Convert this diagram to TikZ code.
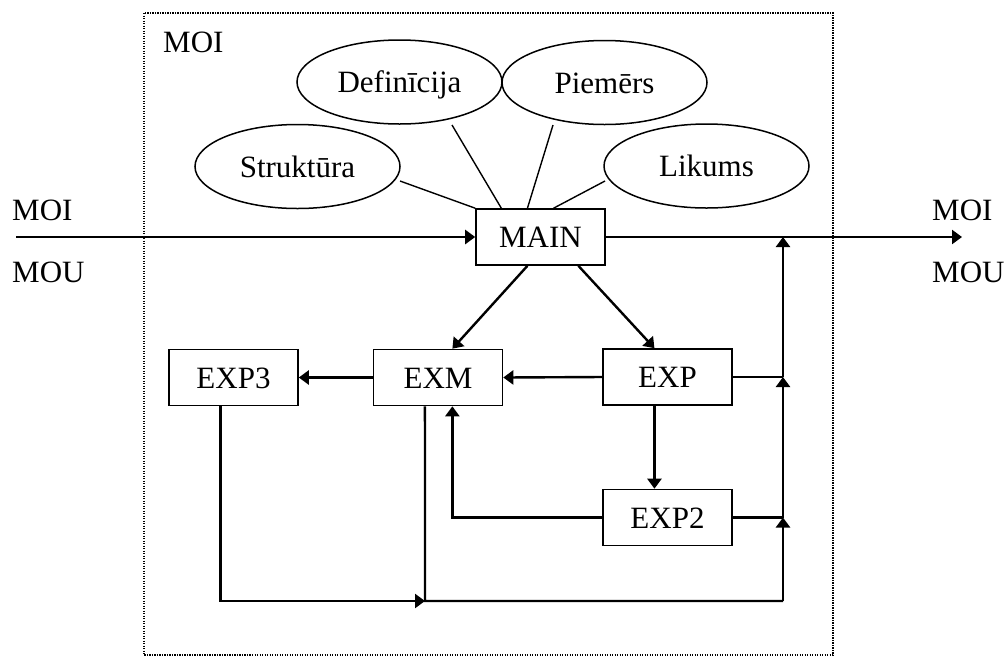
\documentclass[tikz,border=0pt]{standalone}
\usepackage{fontspec}
\setmainfont{Liberation Serif}
\usetikzlibrary{arrows.meta,calc,shapes.geometric}
\begin{document}
\begin{tikzpicture}[x=1pt,y=-1pt,
  every node/.style={font=\fontsize{31}{37}\selectfont},
  lbl/.style={anchor=base west,inner sep=0pt},
  boxn/.style={draw,line width=1.6pt,minimum width=129pt,minimum height=56pt,inner sep=0pt,text height=21pt,text depth=0pt},
  ell/.style={draw,ellipse,line width=1.5pt,minimum width=205pt,minimum height=84pt,inner sep=0pt,text height=21pt,text depth=0pt},
  thin/.style={line width=1.4pt},
  conn/.style={line width=2.4pt},
  arr/.style={conn,-{Triangle[length=10pt,width=14pt]}},
  frame/.style={line width=1.2pt,dash pattern=on 1.3pt off 1.2pt}
]
\useasboundingbox (0,0) rectangle (1006,657);
\draw[frame] (144,13) rectangle (833,655);

% labels
\node[lbl] (moitop) at (163,52) {MOI};
\node[lbl] (moiL) at (12,220) {MOI};
\node[lbl] (mouL) at (12,282) {MOU};
\node[lbl] (moiR) at (932,220) {MOI};
\node[lbl] (mouR) at (932,282) {MOU};

% ellipses
\node[ell] (def) at (399.5,82) {Definīcija};
\node[ell] (pie) at (604.5,82.5) {Piemērs};
\node[ell] (str) at (297.5,166.5) {Struktūra};
\node[ell] (lik) at (706.5,166) {Likums};

% boxes
\node[boxn] (main) at (540.5,237) {MAIN};
\node[boxn] (exm) at (438,377.5) {EXM};
\node[boxn] (exp) at (667.5,377) {EXP};
\node[boxn] (exp3) at (233.5,377.5) {EXP3};
\node[boxn] (exp2) at (667.5,517.5) {EXP2};

% ellipse connectors
\draw[thin] ($(str.center)+(102.5,14.5)$) -- (main.north west);
\draw[thin] ($(def.center)+(52.5,43)$) -- ($(main.north west)!0.2!(main.north east)$);
\draw[thin] ($(pie.center)+(-51.5,42.5)$) -- ($(main.north west)!0.4!(main.north east)$);
\draw[thin] ($(lik.center)+(-101.5,15)$) -- ($(main.north west)!0.6!(main.north east)$);

% coordinates
\coordinate (inL) at (16,237);
\coordinate (outR) at (962,237);
\coordinate (jb) at (425,601);
\coordinate (jr) at (783,601);
\coordinate (j0) at (jr |- main.east);
\coordinate (j1) at (jr |- exp.east);
\coordinate (j2) at (jr |- exp2.east);
\coordinate (exp3b) at ($(exp3.south west)!0.4!(exp3.south east)$);
\coordinate (exmb) at ($(exm.south west)!0.4!(exm.south east)$);
\coordinate (exmin) at ($(exm.south west)!0.61!(exm.south east)$);
\coordinate (expb) at ($(exp.south west)!0.4!(exp.south east)$);

% main flow
\draw[arr] (inL) -- (main.west);
\draw[arr] (main.east) -- (outR);
\draw[arr] ($(main.south west)!0.4!(main.south east)$) -- ($(exm.north west)!0.61!(exm.north east)$);
\draw[arr] ($(main.south west)!0.79!(main.south east)$) -- ($(exp.north west)!0.4!(exp.north east)$);
\draw[arr] (exp.west) -- (exm.west -| exm.east);
\draw[arr] (exm.west) -- (exp3.east);
\draw[arr] (expb) -- (expb |- exp2.north);
\draw[arr] (exp2.west) -| (exmin);

% right bus
\draw[conn] (exp.east) -- (j1);
\draw[conn] (exp2.east) -- (j2);
\draw[arr] (jr) -- (j2);
\draw[arr] (j2) -- (j1);
\draw[arr] (j1) -- (j0);

% bottom return
\draw[arr] (exp3b) |- (jb);
\draw[conn] (exmb) -- (jb) -- (jr);
\end{tikzpicture}
\end{document}
